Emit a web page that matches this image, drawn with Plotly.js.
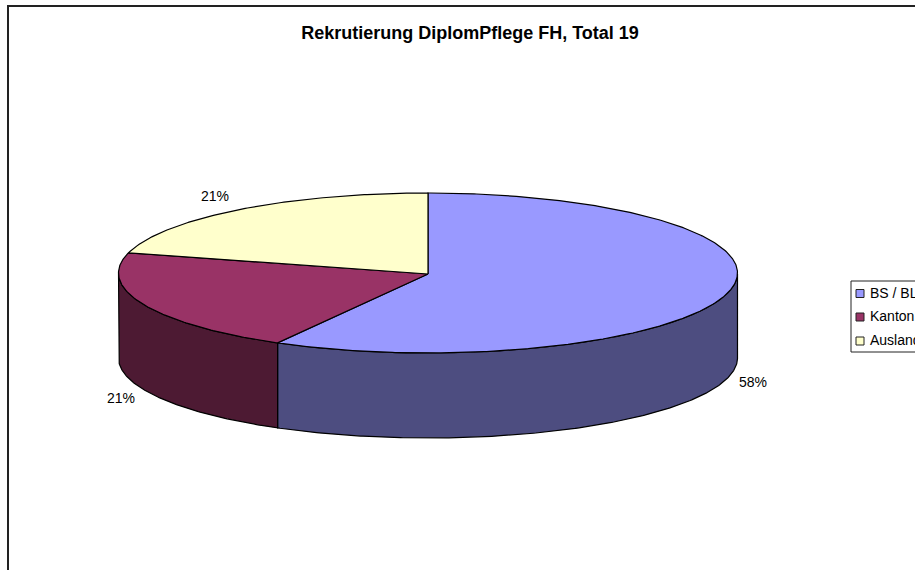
<!DOCTYPE html>
<html>
<head>
<meta charset="utf-8">
<script src="https://cdn.plot.ly/plotly-3.0.1.min.js"></script>
<style>html,body{margin:0;padding:0;background:#fff;overflow:hidden}#chart{width:915px;height:570px}</style>
</head>
<body>
<div id="chart"></div>
<script>
const categories = ["BS / BL", "Kanton", "Ausland"];
const values = [11, 4, 4];
const topColors = ["#9999FF", "#993366", "#FFFFCC"];
const wallColors = ["#4D4D80", "#4D1A33", "#808066"];
const chartTitle = "Rekrutierung DiplomPflege FH, Total 19";

// Pie projection, in page pixels
const cx = 428, cy = 273, hubY = 274, rx = 309.5, ry = 80, depth = 85;
const labelAnchors = [[753, 383], [121, 399], [215, 197]];
const W = 915, H = 570;
const font = "Liberation Sans, Arial, sans-serif";
const ink = "#000000";
const outline = 1.2;

const total = values.reduce((a, b) => a + b, 0);
// small angular correction for the slight perspective of the projected disc
const warp = deg => deg + 0.67 * Math.sin(deg / 2 * Math.PI / 180);
const pt = (deg, dy) => {
  const w = warp(deg) * Math.PI / 180;
  return [cx + rx * Math.sin(w), cy - ry * Math.cos(w) + dy];
};
function arc(a, b, dy) {
  const out = [];
  const n = Math.max(2, Math.ceil(Math.abs(b - a) * 2));
  for (let i = 0; i <= n; i++) out.push(pt(a + (b - a) * i / n, dy));
  return out;
}
function area(points, color, name) {
  const closed = points.concat([points[0]]);
  return {
    type: "scatter", mode: "lines", name: name,
    x: closed.map(p => p[0]), y: closed.map(p => p[1]),
    fill: "toself", fillcolor: color,
    line: { color: ink, width: outline },
    hoverinfo: "name", showlegend: false
  };
}

const traces = [];
const spans = [];
let acc = 0;
values.forEach(v => { spans.push([acc, acc + v / total * 360]); acc += v / total * 360; });

// side walls: only the front half of the rim is visible
spans.forEach((s, i) => {
  const a = Math.max(s[0], 90), b = Math.min(s[1], 270);
  if (b > a) traces.push(area(arc(a, b, 0).concat(arc(b, a, depth)), wallColors[i], categories[i]));
});
// top faces
spans.forEach((s, i) => {
  traces.push(area([[cx, hubY]].concat(arc(s[0], s[1], 0)), topColors[i], categories[i]));
});
// percentage labels
traces.push({
  type: "scatter", mode: "text",
  x: labelAnchors.map(p => p[0]), y: labelAnchors.map(p => p[1]),
  text: values.map(v => Math.round(v / total * 100) + "%"),
  textposition: "middle center",
  textfont: { family: font, size: 14, color: "#000" },
  hoverinfo: "skip", showlegend: false, cliponaxis: false
});

// legend, which runs off the right edge as in the reference
const legendX = 851, legendTop = 281, legendBottom = 352, rowY = [293, 316, 340], swatchY = [293.5, 317, 341];
const shapes = [
  { type: "rect", xref: "x", yref: "y", x0: 8, y0: 6, x1: W + 10, y1: H + 10, line: { color: "#222", width: 2 }, fillcolor: "rgba(0,0,0,0)", layer: "below" },
  { type: "rect", xref: "x", yref: "y", x0: legendX, y0: legendTop, x1: W + 10, y1: legendBottom, line: { color: "#222", width: 1 }, fillcolor: "#fff", layer: "below" }
];
categories.forEach((c, i) => {
  shapes.push({ type: "rect", xref: "x", yref: "y", x0: legendX + 5, y0: swatchY[i] - 4, x1: legendX + 13, y1: swatchY[i] + 4, line: { color: "#222", width: 1 }, fillcolor: topColors[i] });
});
const annotations = categories.map((c, i) => ({
  xref: "x", yref: "y", x: legendX + 16.5, y: rowY[i], text: c, showarrow: false,
  xanchor: "left", yanchor: "middle", font: { family: font, size: 14, color: "#000" }
}));

const layout = {
  width: W, height: H,
  margin: { l: 0, r: 0, t: 0, b: 0 },
  paper_bgcolor: "#fff", plot_bgcolor: "#fff",
  title: { text: "<b>" + chartTitle + "</b>", x: 470 / W, xref: "paper", xanchor: "center", y: 1 - 33 / H, yref: "container", yanchor: "middle", font: { family: font, size: 18, color: "#000" } },
  xaxis: { range: [0, W], visible: false, fixedrange: true },
  yaxis: { range: [H, 0], visible: false, fixedrange: true },
  showlegend: false,
  shapes: shapes,
  annotations: annotations
};
Plotly.newPlot("chart", traces, layout, { displayModeBar: false, responsive: false });
</script>
</body>
</html>
